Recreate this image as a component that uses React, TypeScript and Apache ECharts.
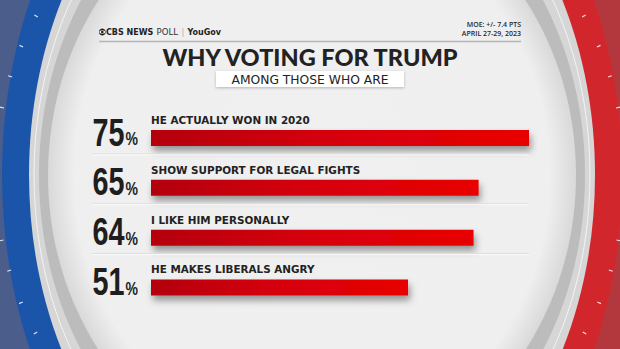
import React, { useEffect, useRef } from 'react';
import * as echarts from 'echarts';

const categories = [
  'HE ACTUALLY WON IN 2020',
  'SHOW SUPPORT FOR LEGAL FIGHTS',
  'I LIKE HIM PERSONALLY',
  'HE MAKES LIBERALS ANGRY',
];
const values = [75, 65, 64, 51];
const titleText = 'WHY VOTING FOR TRUMP';
const subtitleText = 'AMONG THOSE WHO ARE';
const moeLines = ['MOE: +/- 7.4 PTS', 'APRIL 27-29, 2023'];

const CX = 312;
const CY = 175;

const NUM_SIZE = 39;
const PCT_SIZE = 19;
const NUM_FONT = `bold ${NUM_SIZE}px "Liberation Sans Narrow", "Liberation Sans", "DejaVu Sans Condensed", sans-serif`;
const PCT_FONT = `bold ${PCT_SIZE}px "Liberation Sans Narrow", "Liberation Sans", "DejaVu Sans Condensed", sans-serif`;

function measure(t: string, font: string): number {
  const c = document.createElement('canvas').getContext('2d');
  if (!c) return t.length * 18;
  c.font = font;
  return c.measureText(t).width;
}

function ringTicks() {
  const els: any[] = [];
  const a = 313;
  const b = 320;
  const dys = [-158, -128, -98, -67, 65, 95, 127, 157];
  for (const s of [-1, 1]) {
    for (const dy of dys) {
      const dx = a * Math.sqrt(1 - (dy * dy) / (b * b));
      const x = CX - 2 + s * dx;
      const y = CY + dy;
      const len = Math.hypot(dx, dy);
      const ux = (s * dx) / len;
      const uy = dy / len;
      els.push({
        type: 'line',
        shape: { x1: x, y1: y, x2: x + ux * 4, y2: y + uy * 4 },
        style: { stroke: 'rgba(255,255,255,0.85)', lineWidth: 1.2 },
      });
    }
  }
  return els;
}

export default function App() {
  const ref = useRef<HTMLDivElement>(null);

  useEffect(() => {
    if (!ref.current) return;
    const chart = echarts.init(ref.current, null, { renderer: 'svg' });
    const digitW = measure('0', NUM_FONT);
    const SX = 16 / digitW;

    const barGradient = new echarts.graphic.LinearGradient(0, 0, 1, 0, [
      { offset: 0, color: '#b3000f' },
      { offset: 0.45, color: '#d4000a' },
      { offset: 1, color: '#e80003' },
    ]);

    const background = {
      type: 'group',
      z: -10,
      silent: true,
      children: [
        {
          type: 'rect',
          shape: { x: 0, y: 0, width: 620, height: 349 },
          style: {
            fill: new echarts.graphic.LinearGradient(0, 0, 1, 0, [
              { offset: 0, color: '#4b5d8b' },
              { offset: 0.5, color: '#4b5d8b' },
              { offset: 0.5, color: '#b3383e' },
              { offset: 1, color: '#b3383e' },
            ]),
          },
        },
        {
          type: 'ellipse',
          shape: { cx: CX, cy: CY, rx: 310, ry: 420 },
          style: {
            fill: new echarts.graphic.LinearGradient(0, 0, 1, 0, [
              { offset: 0, color: '#1b55aa' },
              { offset: 0.5, color: '#1b55aa' },
              { offset: 0.5, color: '#d2262d' },
              { offset: 1, color: '#d2262d' },
            ]),
          },
        },
        ...ringTicks(),
        {
          type: 'ellipse',
          shape: { cx: CX, cy: CY, rx: 283, ry: 375 },
          style: { fill: '#d6d6d6' },
        },
        {
          type: 'ellipse',
          shape: { cx: CX, cy: CY, rx: 278, ry: 350 },
          style: { fill: 'none', stroke: 'rgba(255,255,255,0.7)', lineWidth: 1 },
        },
        {
          type: 'ellipse',
          shape: { cx: CX, cy: CY, rx: 273, ry: 328 },
          style: { fill: '#bcbcbc' },
        },
        {
          type: 'ellipse',
          shape: { cx: CX, cy: CY, rx: 264, ry: 297 },
          style: {
            fill: new echarts.graphic.RadialGradient(0.5, 0.5, 0.5, [
              { offset: 0, color: '#f0f0f0' },
              { offset: 0.9, color: '#efefef' },
              { offset: 1, color: '#d9d9d9' },
            ]),
          },
        },
      ],
    };

    const header = {
      type: 'group',
      z: 10,
      silent: true,
      children: [
        { type: 'circle', shape: { cx: 102.3, cy: 32, r: 3.4 }, style: { fill: '#222' } },
        { type: 'ellipse', shape: { cx: 102.3, cy: 32, rx: 2.9, ry: 1.7 }, style: { fill: '#fff' } },
        { type: 'circle', shape: { cx: 102.3, cy: 32, r: 1.3 }, style: { fill: '#222' } },
        {
          type: 'text',
          x: 106,
          y: 32,
          style: {
            text: '{b|CBS NEWS} {r|POLL} {s||} {b|YouGov}',
            verticalAlign: 'middle',
            align: 'left',
            rich: {
              b: { fontFamily: 'DejaVu Sans', fontWeight: 'bold', fontSize: 8, fill: '#222', color: '#222' },
              r: { fontFamily: 'DejaVu Sans', fontSize: 8.6, fill: '#333', color: '#333' },
              s: { fontFamily: 'DejaVu Sans', fontSize: 8, fill: '#aaa', color: '#aaa' },
            },
          },
        },
        {
          type: 'text',
          x: 521,
          y: 24.4,
          style: {
            text: moeLines[0],
            align: 'right',
            verticalAlign: 'middle',
            font: '600 7px "Open Sans", sans-serif',
            fill: '#2a2a2a',
          },
        },
        {
          type: 'text',
          x: 521,
          y: 33,
          style: {
            text: moeLines[1],
            align: 'right',
            verticalAlign: 'middle',
            font: '600 7px "Open Sans", sans-serif',
            fill: '#2a2a2a',
          },
        },
        {
          type: 'line',
          shape: { x1: 99, y1: 41.5, x2: 521, y2: 41.5 },
          style: { stroke: '#b5b5b5', lineWidth: 1.5 },
        },
        {
          type: 'rect',
          shape: { x: 216, y: 71, width: 188, height: 16 },
          style: { fill: '#ffffff', shadowBlur: 3, shadowOffsetY: 1, shadowColor: 'rgba(0,0,0,0.25)' },
        },
        {
          type: 'text',
          x: 310,
          y: 79.5,
          style: {
            text: subtitleText,
            align: 'center',
            verticalAlign: 'middle',
            font: '12.3px "DejaVu Sans", sans-serif',
            fill: '#222',
          },
        },
      ],
    };

    const option: any = {
      animation: false,
      backgroundColor: '#efefef',
      title: {
        text: titleText,
        left: 'center',
        top: 45,
        padding: 0,
        textStyle: {
          fontFamily: 'Lato',
          fontWeight: 900,
          fontSize: 23.5,
          lineHeight: 24,
          color: '#222',
        },
      },
      graphic: [background, header],
      grid: { left: 151, right: 91, top: 113, bottom: 36.6, containLabel: false },
      xAxis: {
        type: 'value',
        min: 0,
        max: 75,
        show: false,
      },
      yAxis: {
        type: 'category',
        data: categories,
        inverse: true,
        show: false,
      },
      series: [
        {
          type: 'bar',
          data: values,
          barWidth: 16,
          silent: true,
          z: 3,
          itemStyle: {
            color: barGradient,
            shadowColor: 'rgba(0,0,0,0.38)',
            shadowBlur: 7,
            shadowOffsetY: 5,
            shadowOffsetX: 2,
          },
          label: {
            show: true,
            formatter: '{b}',
            position: [0, -10],
            align: 'left',
            verticalAlign: 'middle',
            fontFamily: 'DejaVu Sans',
            fontWeight: 'bold',
            fontSize: 10.4,
            color: '#222',
          },
        },
        {
          type: 'custom',
          silent: true,
          z: 4,
          clip: false,
          data: values.map((v, i) => [v, i]),
          encode: { x: 0, y: 1 },
          renderItem: (params: any, api: any) => {
            const idx = api.value(1);
            const v = api.value(0);
            const p0 = api.coord([0, idx]);
            const pEnd = api.coord([75, idx]);
            const x0 = p0[0] - 58.5;
            const cy = p0[1];
            const baseline = cy + 7.5;
            const digits = String(v);
            const dw = measure(digits, NUM_FONT) * SX;
            const children: any[] = [
              {
                type: 'text',
                x: x0,
                y: baseline - 0.3465 * NUM_SIZE,
                scaleX: SX,
                style: {
                  text: digits,
                  font: NUM_FONT,
                  fill: '#1e1e1e',
                  textAlign: 'left',
                  textVerticalAlign: 'middle',
                },
              },
              {
                type: 'text',
                x: x0 + dw + 1,
                y: baseline - 0.3465 * PCT_SIZE,
                scaleX: SX,
                style: {
                  text: '%',
                  font: PCT_FONT,
                  fill: '#1e1e1e',
                  textAlign: 'left',
                  textVerticalAlign: 'middle',
                },
              },
            ];
            if (idx < categories.length - 1) {
              children.push({
                type: 'line',
                shape: { x1: x0, y1: cy + 16, x2: pEnd[0], y2: cy + 16 },
                style: { stroke: '#dcdcdc', lineWidth: 1 },
              });
              children.push({
                type: 'line',
                shape: { x1: x0, y1: cy + 17, x2: pEnd[0], y2: cy + 17 },
                style: { stroke: '#fbfbfb', lineWidth: 1 },
              });
            }
            return { type: 'group', children };
          },
        },
      ],
    };

    chart.setOption(option);
    return () => chart.dispose();
  }, []);

  return <div ref={ref} style={{ width: 620, height: 349, position: 'fixed', left: 0, top: 0 }} />;
}
